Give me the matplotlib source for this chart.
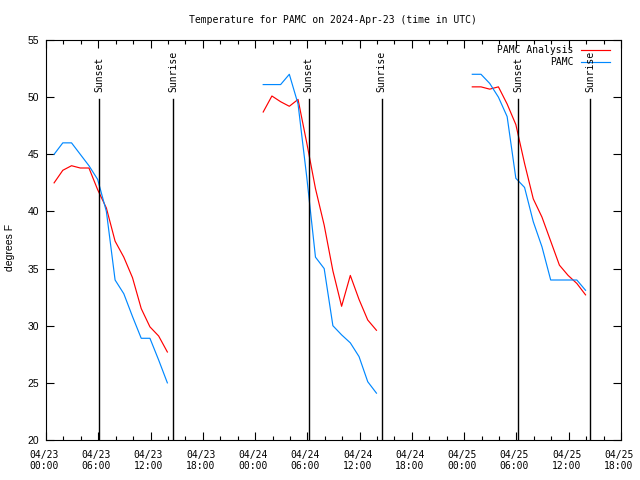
from datetime import datetime, timedelta
import matplotlib
matplotlib.use('Agg')
import matplotlib.pyplot as plt
import matplotlib.dates as mdates
import matplotlib.transforms as mtransforms

# hours after 2024-04-23 00:00 UTC
obs_hours = [
    [0.93, 1.93, 2.93, 3.93, 4.93, 5.93, 6.93, 7.93, 8.93, 9.93, 10.93, 11.93, 12.93, 13.93],
    [24.93, 25.93, 26.93, 27.93, 28.93, 29.93, 30.93, 31.93, 32.93, 33.93, 34.93, 35.93, 36.93, 37.93],
    [48.93, 49.93, 50.93, 51.93, 52.93, 53.93, 54.93, 55.93, 56.93, 57.93, 58.93, 59.93, 60.93, 61.93],
]
analysis_temps = [
    [42.5, 43.6, 44.0, 43.8, 43.8, 41.9, 40.3, 37.4, 36.0, 34.2, 31.5, 29.9, 29.1, 27.7],
    [48.7, 50.1, 49.6, 49.2, 49.8, 46.0, 42.0, 38.8, 34.8, 31.7, 34.4, 32.3, 30.5, 29.6],
    [50.9, 50.9, 50.7, 50.9, 49.4, 47.6, 44.2, 41.1, 39.5, 37.4, 35.3, 34.4, 33.7, 32.7],
]
station_temps = [
    [45.0, 46.0, 46.0, 45.0, 44.0, 42.8, 40.0, 34.0, 32.8, 30.8, 28.9, 28.9, 27.0, 25.0],
    [51.1, 51.1, 51.1, 52.0, 49.4, 43.0, 36.0, 35.0, 30.0, 29.2, 28.5, 27.3, 25.1, 24.1],
    [52.0, 52.0, 51.2, 50.0, 48.3, 42.9, 42.1, 39.1, 36.9, 34.0, 34.0, 34.0, 34.0, 33.1],
]
sunset_hours = [6.12, 30.16, 54.21]
sunrise_hours = [14.61, 38.52, 62.45]
series_labels = ['PAMC Analysis', 'PAMC']
series_colors = ['#ff0000', '#0088ff']

base = datetime(2024, 4, 23)
mono = 'DejaVu Sans Mono'
sans = 'Liberation Sans'


def to_time(h):
    return base + timedelta(hours=h)


fig = plt.figure(figsize=(6.4, 4.8), dpi=100)
ax = fig.add_axes([46/640, 40/480, 575/640, 400/480])

for seg in range(len(obs_hours)):
    t = [to_time(h) for h in obs_hours[seg]]
    ax.plot(t, analysis_temps[seg], color=series_colors[0], lw=0.85)
    ax.plot(t, station_temps[seg], color=series_colors[1], lw=0.85)

for hrs, name in [(sunset_hours, 'Sunset'), (sunrise_hours, 'Sunrise')]:
    for h in hrs:
        ax.plot([to_time(h), to_time(h)], [20, 49.85], color='black', lw=1.0)
        ax.text(to_time(h), 50.45, name, rotation=90, ha='center', va='bottom',
                family=mono, fontsize=7)

ax.set_xlim(to_time(0), to_time(66))
ax.set_ylim(20, 55)
ax.set_yticks(range(20, 56, 5))
ax.xaxis.set_major_locator(mdates.HourLocator(byhour=[0, 6, 12, 18]))
ax.xaxis.set_minor_locator(mdates.HourLocator(interval=2))
ax.xaxis.set_major_formatter(mdates.DateFormatter('%m/%d\n%H:%M'))

ax.tick_params(axis='both', which='both', direction='in', top=True, right=True,
               color='black', width=0.8)
ax.tick_params(axis='both', which='major', length=6)
ax.tick_params(axis='x', which='minor', length=3)
ax.tick_params(axis='x', which='major', pad=7)
ax.tick_params(axis='y', which='major', pad=5)
shift = mtransforms.ScaledTranslation(-2/100, 0, fig.dpi_scale_trans)
for lbl in ax.get_xticklabels():
    lbl.set_family(mono)
    lbl.set_fontsize(7)
    lbl.set_transform(lbl.get_transform() + shift)
for lbl in ax.get_yticklabels():
    lbl.set_family(sans)
    lbl.set_fontsize(7.5)
for sp in ax.spines.values():
    sp.set_linewidth(0.8)

# gnuplot style key: right-aligned text, line sample to the right
for i, (lab, col) in enumerate(zip(series_labels, series_colors)):
    yk = 0.975 - i * 0.031
    ax.text(0.918, yk, lab, transform=ax.transAxes, ha='right', va='center',
            family=mono, fontsize=7)
    ax.plot([0.930, 0.981], [yk, yk], transform=ax.transAxes, color=col, lw=0.85)

fig.text(10/640, 1 - 247/480, 'degrees F', rotation=90, ha='center', va='center',
         family=sans, fontsize=7.5)
fig.text(333/640, 1 - 20/480, 'Temperature for PAMC on 2024-Apr-23 (time in UTC)',
         ha='center', va='center', family=mono, fontsize=7)

fig.savefig('out.png', dpi=100)
